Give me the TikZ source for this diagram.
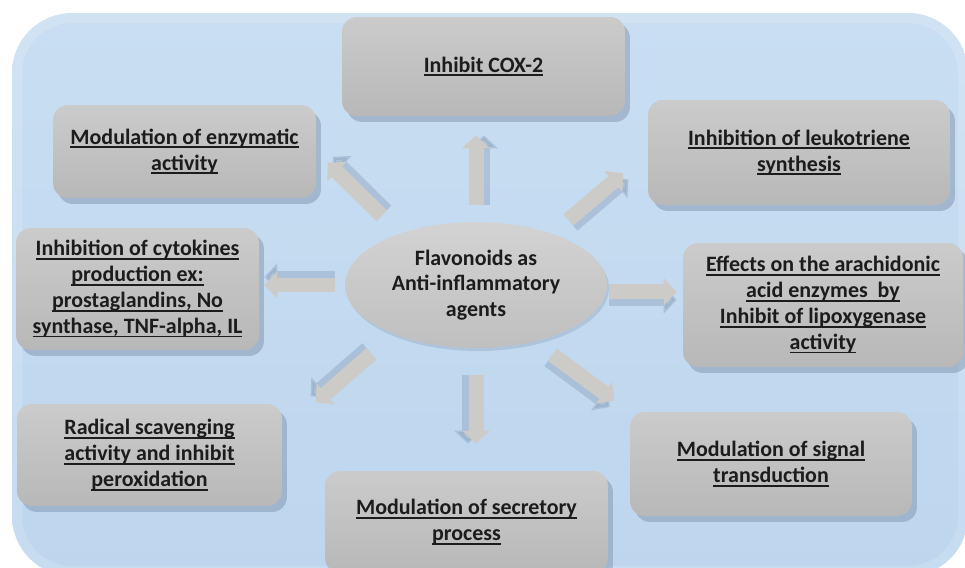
\documentclass[tikz,border=0pt]{standalone}
\usepackage{fontspec}
\setmainfont{Carlito}
\usepackage{xcolor}
\usetikzlibrary{arrows.meta}
\usetikzlibrary{shapes.geometric}
\usetikzlibrary{shadows}
\definecolor{bgtop}{HTML}{C9DEF2}
\definecolor{bgbottom}{HTML}{BDD6EE}
\definecolor{boxtop}{HTML}{CBCBCB}
\definecolor{boxbottom}{HTML}{B8B8B8}
\definecolor{shadowblue}{HTML}{8195AE}
\definecolor{arrowgray}{HTML}{CDCBC8}
\definecolor{arrowshade}{HTML}{8EA3BD}
\definecolor{inkgray}{HTML}{1C1C1C}
\newcommand{\ulin}[1]{\setbox0\hbox{#1}\rlap{\rule[-2.3pt]{\wd0}{1.05pt}}\box0}
\tikzset{
    basebox/.style = {align=center, inner sep=2pt, text=inkgray, font=\bfseries\fontsize{12.5}{14.7}\selectfont},
    effect/.style = {basebox, rectangle, rounded corners=0.3cm, top color=boxtop, bottom color=boxbottom,
        drop shadow={shadow xshift=0.1cm, shadow yshift=-0.12cm, fill=shadowblue, opacity=0.5}},
    hub/.style = {basebox, ellipse, inner sep=0pt, top color=boxtop!85!white, bottom color=boxbottom!90!white,
        drop shadow={shadow xshift=0.04cm, shadow yshift=-0.06cm, fill=shadowblue, opacity=0.3}},
    push/.style = {draw=arrowgray, line width=0.3cm, -{Triangle[width=0.54cm,length=0.26cm]},
        preaction={draw=arrowshade, opacity=0.45, line width=0.24cm, transform canvas={shift={(#1:0.16cm)}}}}
}
\begin{document}
\begin{tikzpicture}
            [x=0.02cm, y=-0.02cm]

            \useasboundingbox (0,0) rectangle (965,568);
            \clip (0,0) rectangle (965,568);
            \shade [top color=bgtop, bottom color=bgbottom, rounded corners=1.2cm] (12,13) rectangle (968,576);
            \draw [white, opacity=0.15, line width=0.2cm, rounded corners=1.1cm] (17,18) rectangle (963,571);

            \node [hub, minimum width=5.24cm, minimum height=2.52cm] (core) at (476,285)
                {Flavonoids as\\Anti-inflammatory\\agents};

            \node [effect, minimum width=5.66cm, minimum height=1.98cm] (cox) at (483.5,66.5)
                {\ulin{Inhibit COX-2}};
            \node [effect, minimum width=5.26cm, minimum height=1.86cm] (enzyme) at (184.5,151.5)
                {\ulin{Modulation of enzymatic}\\\ulin{activity}};
            \node [effect, minimum width=6.04cm, minimum height=2.10cm] (leuko) at (799,152.5)
                {\ulin{Inhibition of leukotriene}\\\ulin{synthesis}};
            \node [effect, minimum width=4.86cm, minimum height=2.44cm] (cytokine) at (137.5,289)
                {\ulin{Inhibition of cytokines}\\\ulin{production ex:}\\\ulin{prostaglandins, No}\\\ulin{synthase, TNF-alpha, IL}};
            \node [effect, minimum width=5.60cm, minimum height=2.48cm] (arachid) at (823,305)
                {\ulin{Effects on the arachidonic}\\\ulin{acid enzymes~ by}\\\ulin{Inhibit of lipoxygenase}\\\ulin{activity}};
            \node [effect, minimum width=5.30cm, minimum height=2.04cm] (radical) at (149.5,455)
                {\ulin{Radical scavenging}\\\ulin{activity and inhibit}\\\ulin{peroxidation}};
            \node [effect, minimum width=5.66cm, minimum height=2.04cm] (secret) at (466.5,522)
                {\ulin{Modulation of secretory}\\\ulin{process}};
            \node [effect, minimum width=5.64cm, minimum height=2.08cm] (signal) at (771,464)
                {\ulin{Modulation of signal}\\\ulin{transduction}};

            \draw [push=0, shorten <=0.34cm, shorten >=0.38cm] (core.north) -- (core.north |- cox.south);
            \draw [push=49, shorten <=0.50cm, shorten >=0.32cm] (core.146) -- (enzyme.east);
            \draw [push=-50, shorten <=0.42cm, shorten >=0.64cm] (core.34) -- (leuko.west);
            \draw [push=90, shorten <=0.20cm, shorten >=0.10cm] (core.west) -- (core.west -| cytokine.east);
            \draw [push=-90, shorten <=0.04cm, shorten >=0.12cm] (core.-3) -- (core.-3 -| arachid.west);
            \draw [push=131, shorten <=0.59cm, shorten >=0.89cm] (core.211) -- (radical.10);
            \draw [push=180, shorten <=0.54cm, shorten >=0.54cm] (core.south) -- (core.south |- secret.north);
            \draw [push=-125, shorten <=0.44cm, shorten >=0.38cm] (core.-44) -- (signal.north west);
        \end{tikzpicture}
\end{document}
